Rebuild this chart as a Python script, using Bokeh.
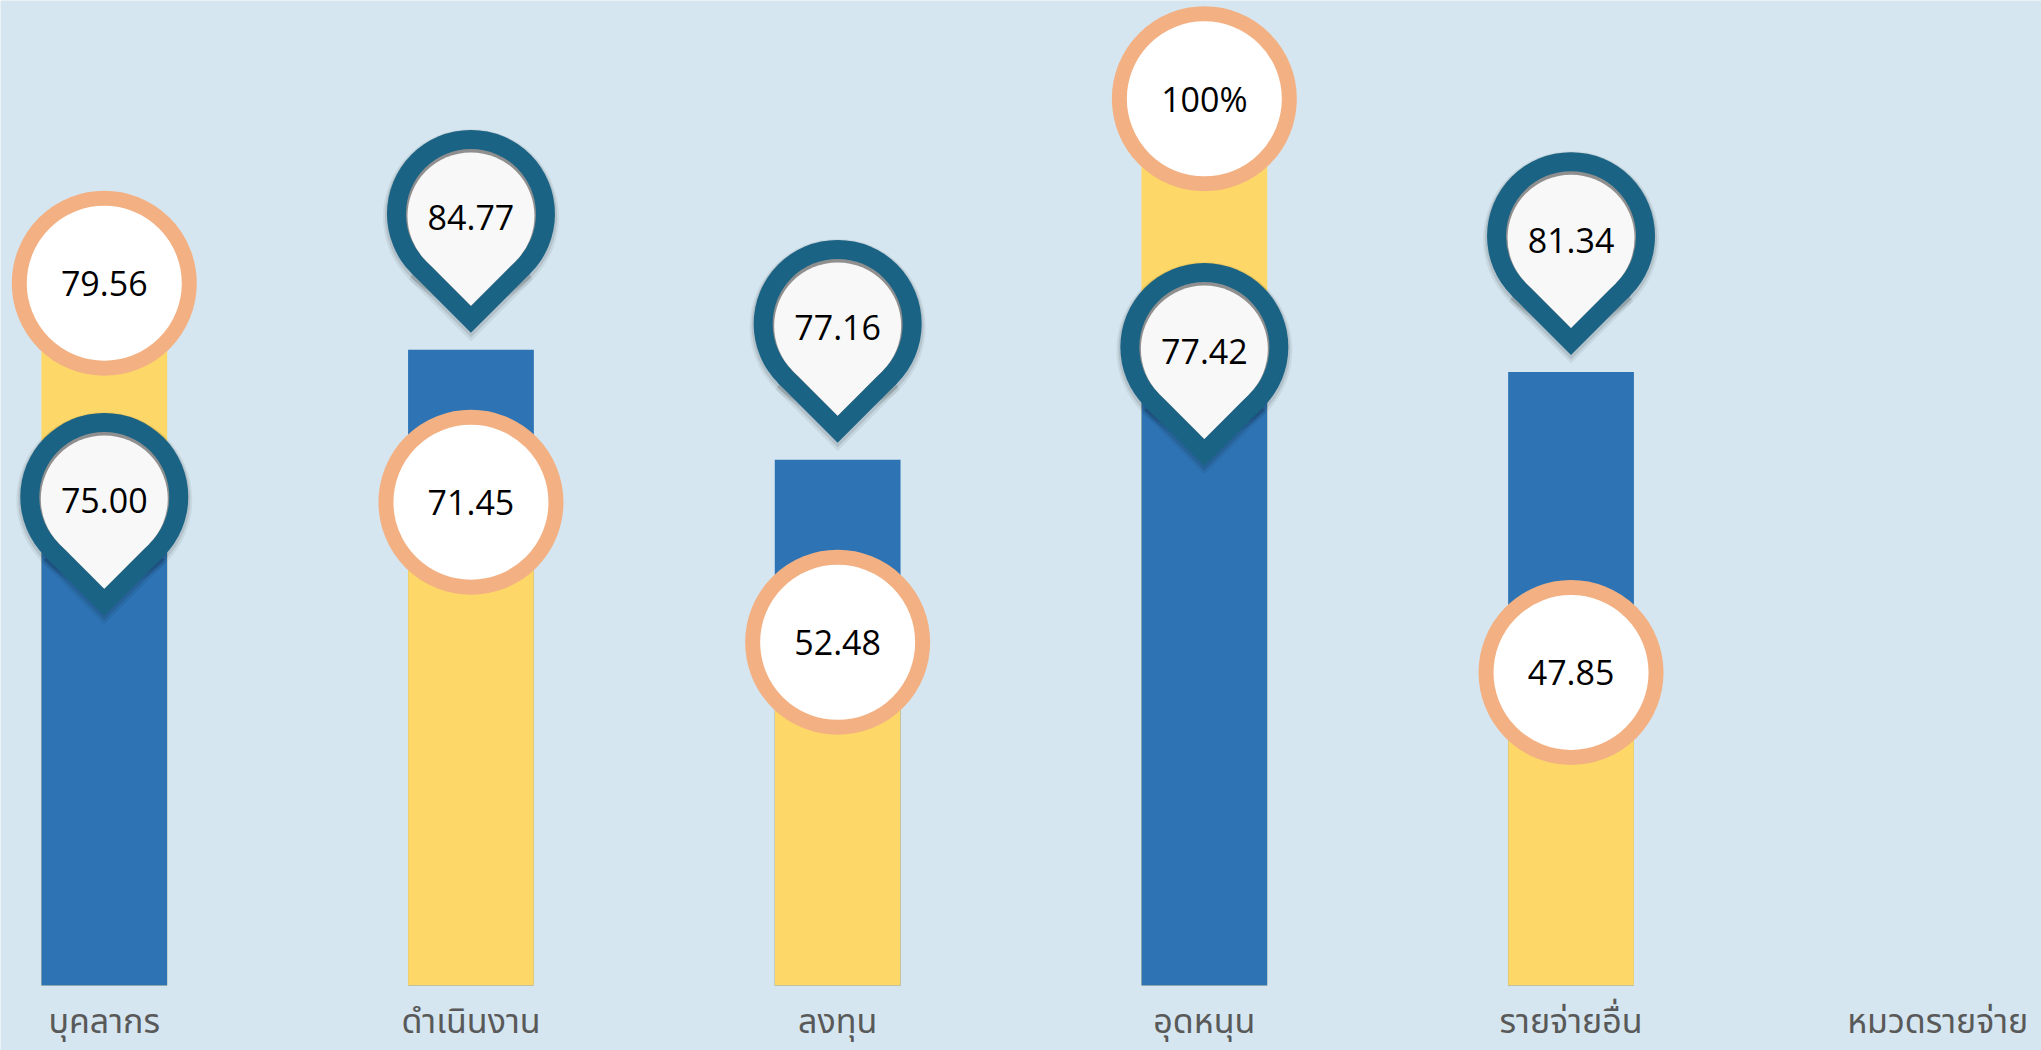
import math
from bokeh.plotting import figure
from bokeh.models import FactorRange, Range1d
from bokeh.core.properties import value
from bokeh.embed import file_html
from bokeh.resources import INLINE

# ---------------- data ----------------
categories = ["บุคลากร", "ดำเนินงาน", "ลงทุน", "อุดหนุน", "รายจ่ายอื่น"]
axis_title = "หมวดรายจ่าย"

# values printed in the markers
yellow_values = [79.56, 71.45, 52.48, 100.0, 47.85]   # orange ring circles
blue_values = [75.00, 84.77, 77.16, 77.42, 81.34]     # teal pins

# bar heights as drawn in the picture (same 0-100 scale as the 100% bar)
yellow_heights = [79.2, 54.5, 38.7, 100.0, 35.3]
blue_heights = [55.1, 71.7, 59.3, 72.0, 69.2]

# ---------------- style ----------------
BG = "#d5e6f0"
BLUE = "#2e74b5"
YELLOW = "#fdd868"
ORANGE = "#f3b183"
TEAL = "#1b6384"
NUM_FONT = "Open Sans"
THAI_FONT = "Noto Sans Thai, Noto Sans, sans-serif"

W, H = 2041, 1050
Y_START, Y_END = -7.33, 111.09
PXU = H / (Y_END - Y_START)          # pixels per data unit (vertical)
LABEL_Y = -4.2                        # row for category names

R_PIN = 84        # outer radius of pin head (px)
PIN_RING = 19
R_CIRC = 92.5     # outer radius of ring circle (px)
CIRC_RING = 15
GAP = 17

def fmt(v):
    return "100%" if v == 100 else f"{v:.2f}"

yellow_labels = [fmt(v) for v in yellow_values]
blue_labels = [fmt(v) for v in blue_values]

factors = categories + [axis_title]

p = figure(width=W, height=H,
           x_range=FactorRange(factors=factors, range_padding=-0.217,
                               range_padding_units="absolute"),
           y_range=Range1d(Y_START, Y_END), output_backend="svg", toolbar_location=None,
           x_axis_location=None, y_axis_location=None, min_border=0,
           background_fill_color=BG, border_fill_color=BG, outline_line_color=None)
p.grid.visible = False

# bars: taller one behind, shorter one in front
back_h, back_c, front_h, front_c = [], [], [], []
for yh, bh in zip(yellow_heights, blue_heights):
    if yh >= bh:
        back_h.append(yh); back_c.append(YELLOW); front_h.append(bh); front_c.append(BLUE)
    else:
        back_h.append(bh); back_c.append(BLUE); front_h.append(yh); front_c.append(YELLOW)

BW = 0.343
p.vbar(x=categories, top=back_h, bottom=0, width=BW, fill_color=back_c, line_color=None)
p.vbar(x=categories, top=front_h, bottom=0, width=BW, fill_color=front_c, line_color=None)

# ring circles at the top of the yellow bars
p.scatter(x=categories, y=yellow_heights, marker="circle", size=2 * R_CIRC - CIRC_RING,
          fill_color="white", line_color=ORANGE, line_width=CIRC_RING)
p.text(x=categories, y=yellow_heights, text=yellow_labels, text_align="center",
       text_baseline="middle", text_font=value(NUM_FONT), text_font_size="34px",
       text_color="black")

# pins for the blue bars
pin_center = []
for yh, bh in zip(yellow_heights, blue_heights):
    if bh > yh:   # pin floats above the (taller) blue bar
        pin_center.append(bh + (GAP + R_PIN * math.sqrt(2)) / PXU)
    else:         # pin sits on the top of the (front) blue bar
        pin_center.append(bh)

def teardrop(yc, R, color, alpha=1.0, dy_px=0.0):
    ys = [y - dy_px / PXU for y in yc]
    p.scatter(x=categories, y=ys, marker="circle", size=2 * R, fill_color=color,
              fill_alpha=alpha, line_color=None)
    yq = [y - R * math.sqrt(2) / 2 / PXU for y in ys]
    p.scatter(x=categories, y=yq, marker="square", size=R, angle=math.pi / 4,
              fill_color=color, fill_alpha=alpha, line_color=None)

teardrop(pin_center, R_PIN + 4, "black", 0.06, 3)
teardrop(pin_center, R_PIN + 2, "black", 0.10, 2)
teardrop(pin_center, R_PIN, TEAL)
teardrop(pin_center, R_PIN - PIN_RING, "#8f8f8f")
teardrop(pin_center, R_PIN - PIN_RING - 1.5, "#f8f8f8", 1.0, 2)

p.text(x=categories, y=[c - 4 / PXU for c in pin_center], text=blue_labels,
       text_align="center", text_baseline="middle", text_font=value(NUM_FONT),
       text_font_size="34px", text_color="black")

# category names along the bottom (incl. the axis title as last slot)
p.text(x=factors, y=[LABEL_Y] * len(factors), text=factors, text_align="center",
       text_baseline="middle", text_font=value(THAI_FONT), text_font_size="34px",
       text_color="#595959")

open("out.html", "w").write(file_html(p, INLINE))
